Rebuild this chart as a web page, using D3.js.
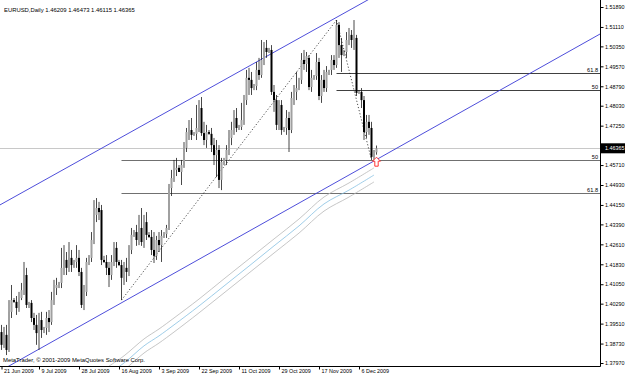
<!DOCTYPE html>
<html>
<head>
<meta charset="utf-8">
<script src="https://cdn.jsdelivr.net/npm/d3@7"></script>
<style>
  html, body { margin: 0; padding: 0; background: #fff; }
  svg text { font-family: "Liberation Sans", Arial, sans-serif; }
</style>
</head>
<body>
<div id="chart"></div>
<script>
// EURUSD daily candles, Jun-Dec 2009 (MetaTrader style)
const width = 625;
const height = 376;
const plotRight = 600;
const plotBottom = 366;

// OHLC, one entry per bar (broker has Sunday bars)
const opens = [
  1.3926,1.3918,1.3868,1.3907,1.3848,1.3997,1.4043,1.4036,1.4012,1.4051,
  1.4082,1.4141,1.4024,1.4032,1.3973,1.3946,1.3914,1.3965,1.3926,1.3934,
  1.3973,1.3957,1.4043,1.4090,1.4102,1.4110,1.4169,1.4200,1.4169,1.4208,
  1.4180,1.4192,1.4208,1.4153,1.4024,1.4075,1.4192,1.4208,1.4278,1.4376,
  1.4403,1.4395,1.4200,1.4192,1.4169,1.4141,1.4192,1.4247,1.4192,1.4180,
  1.4130,1.4169,1.4153,1.4239,1.4298,1.4309,1.4278,1.4325,1.4270,1.4348,
  1.4298,1.4290,1.4239,1.4216,1.4278,1.4258,1.4294,1.4301,1.4325,1.4481,
  1.4520,1.4552,1.4560,1.4544,1.4571,1.4638,1.4700,1.4708,1.4689,1.4693,
  1.4716,1.4794,1.4696,1.4669,1.4700,1.4693,1.4649,1.4610,1.4630,1.4513,
  1.4583,1.4591,1.4630,1.4677,1.4708,1.4755,1.4716,1.4720,1.4747,1.4825,
  1.4912,1.4904,1.4872,1.4880,1.4943,1.4923,1.4982,1.5029,1.5013,1.5021,
  1.4857,1.4825,1.4728,1.4806,1.4708,1.4716,1.4755,1.4708,1.4833,1.4857,
  1.4872,1.4904,1.4982,1.4966,1.4990,1.4876,1.4912,1.4919,1.4974,1.4841,
  1.4904,1.4872,1.4935,1.4943,1.4982,1.4962,1.5119,1.5040,1.5001,1.5013,
  1.5060,1.5080,1.5060,1.5068,1.4853,1.4857,1.4825,1.4700,1.4740,1.4716,
  1.4603,1.46209
];
const highs = [
  1.3938,1.3946,1.3938,1.3946,1.4043,1.4102,1.4051,1.4059,1.4075,1.4110,
  1.4192,1.4169,1.4036,1.4043,1.3993,1.3985,1.3993,1.3997,1.3938,1.3997,
  1.4004,1.4075,1.4122,1.4130,1.4114,1.4247,1.4258,1.4231,1.4270,1.4239,
  1.4200,1.4258,1.4239,1.4169,1.4102,1.4208,1.4219,1.4309,1.4434,1.4442,
  1.4427,1.4415,1.4216,1.4219,1.4192,1.4219,1.4270,1.4270,1.4200,1.4200,
  1.4192,1.4208,1.4258,1.4325,1.4317,1.4337,1.4376,1.4403,1.4376,1.4387,
  1.4309,1.4317,1.4309,1.4294,1.4309,1.4317,1.4309,1.4337,1.4497,1.4552,
  1.4591,1.4599,1.4571,1.4591,1.4661,1.4716,1.4747,1.4755,1.4700,1.4806,
  1.4825,1.4837,1.4740,1.4728,1.4708,1.4716,1.4677,1.4669,1.4649,1.4599,
  1.4599,1.4649,1.4708,1.4740,1.4786,1.4794,1.4728,1.4814,1.4845,1.4943,
  1.4951,1.4935,1.4888,1.4974,1.4990,1.5060,1.5052,1.5060,1.5029,1.5040,
  1.4884,1.4845,1.4825,1.4825,1.4720,1.4786,1.4779,1.4857,1.4884,1.4935,
  1.4912,1.5009,1.5021,1.5013,1.5001,1.4943,1.4923,1.5009,1.4990,1.4923,
  1.4943,1.4958,1.4943,1.5001,1.5001,1.5138,1.5130,1.5068,1.5021,1.5091,
  1.5107,1.5099,1.5138,1.5080,1.4864,1.4872,1.4841,1.4767,1.4767,1.4740,
  1.4630,1.46473
];
const lows = [
  1.3914,1.3848,1.3856,1.3828,1.3840,1.3973,1.4032,1.3985,1.3997,1.4043,
  1.4063,1.4012,1.4012,1.3957,1.3926,1.3868,1.3848,1.3895,1.3914,1.3907,
  1.3918,1.3946,1.4024,1.4063,1.4090,1.4090,1.4141,1.4141,1.4153,1.4153,
  1.4169,1.4169,1.4137,1.4012,1.4004,1.4059,1.4180,1.4192,1.4262,1.4348,
  1.4356,1.4180,1.4188,1.4141,1.4094,1.4122,1.4176,1.4169,1.4176,1.4043,
  1.4102,1.4114,1.4137,1.4223,1.4290,1.4255,1.4258,1.4255,1.4247,1.4278,
  1.4286,1.4219,1.4188,1.4200,1.4231,1.4192,1.4286,1.4286,1.4317,1.4450,
  1.4505,1.4528,1.4544,1.4493,1.4560,1.4622,1.4669,1.4669,1.4685,1.4669,
  1.4700,1.4685,1.4649,1.4638,1.4689,1.4622,1.4571,1.4524,1.4481,1.4473,
  1.4571,1.4571,1.4610,1.4649,1.4689,1.4700,1.4708,1.4708,1.4728,1.4806,
  1.4845,1.4845,1.4864,1.4864,1.4904,1.4912,1.4962,1.4990,1.5009,1.4845,
  1.4779,1.4708,1.4708,1.4689,1.4700,1.4689,1.4622,1.4696,1.4806,1.4825,
  1.4864,1.4888,1.4943,1.4935,1.4864,1.4857,1.4904,1.4904,1.4825,1.4814,
  1.4857,1.4857,1.4923,1.4923,1.4943,1.4951,1.4990,1.4935,1.4997,1.4990,
  1.5040,1.5029,1.5021,1.4841,1.4849,1.4794,1.4669,1.4677,1.4689,1.4591,
  1.4591,1.46115
];
const closes = [
  1.3918,1.3868,1.3907,1.3848,1.3997,1.4043,1.4036,1.4012,1.4051,1.4082,
  1.4141,1.4024,1.4032,1.3973,1.3946,1.3914,1.3965,1.3926,1.3934,1.3973,
  1.3957,1.4043,1.4090,1.4102,1.4110,1.4169,1.4200,1.4169,1.4208,1.4180,
  1.4192,1.4208,1.4153,1.4024,1.4075,1.4192,1.4208,1.4278,1.4376,1.4403,
  1.4387,1.4200,1.4192,1.4169,1.4141,1.4192,1.4247,1.4192,1.4180,1.4130,
  1.4169,1.4153,1.4239,1.4298,1.4309,1.4278,1.4325,1.4270,1.4348,1.4298,
  1.4290,1.4239,1.4216,1.4278,1.4258,1.4294,1.4301,1.4325,1.4481,1.4520,
  1.4552,1.4560,1.4544,1.4571,1.4638,1.4700,1.4708,1.4689,1.4693,1.4716,
  1.4794,1.4696,1.4669,1.4700,1.4693,1.4649,1.4610,1.4630,1.4513,1.4583,
  1.4591,1.4630,1.4677,1.4708,1.4755,1.4716,1.4720,1.4747,1.4825,1.4912,
  1.4904,1.4872,1.4880,1.4943,1.4923,1.4982,1.5029,1.5013,1.5021,1.4857,
  1.4825,1.4728,1.4806,1.4708,1.4716,1.4755,1.4708,1.4833,1.4857,1.4872,
  1.4904,1.4982,1.4966,1.4997,1.4876,1.4912,1.4919,1.4974,1.4841,1.4904,
  1.4872,1.4935,1.4943,1.4982,1.4962,1.5119,1.5040,1.5001,1.5013,1.5060,
  1.5080,1.5060,1.5068,1.4853,1.4857,1.4825,1.4700,1.4740,1.4716,1.4603,
  1.4614,1.46365
];

// slow moving average with envelope, sampled at these bars
const maIdx    = [44, 50, 58, 64, 70, 80, 90, 100, 110, 120, 130, 140, 150];
const maUpper  = [1.3785,1.3825,1.3891,1.3930,1.3973,1.4047,1.4126,1.4204,1.4282,1.4360,1.4446,1.4501,1.4560];
const maMiddle = [1.3758,1.3797,1.3864,1.3903,1.3946,1.4020,1.4098,1.4176,1.4255,1.4333,1.4419,1.4473,1.4532];
const maLower  = [1.3731,1.3770,1.3836,1.3875,1.3918,1.3993,1.4071,1.4149,1.4227,1.4305,1.4391,1.4446,1.4505];

// channel anchors [bar, price]
const channelUpper = [[0, 1.4413], [114, 1.5034]];
const channelLower = [[40, 1.3983], [148, 1.4576]];

// fibonacci anchors [bar, price] and levels
const fibA = [[49, 1.4043], [135, 1.5138]];
const fibB = [[135, 1.5138], [149, 1.4591]];
const fibLevels = [50, 61.8];

// axis labels (1.46490 sits under the current price box)
const priceTicks = [1.51890,1.51110,1.50350,1.49570,1.48790,1.48030,1.47250,1.46490,1.45710,
  1.44930,1.44150,1.43390,1.42610,1.41830,1.41050,1.40290,1.39510,1.38730,1.37970];
const dateIdx = [0, 16, 32, 48, 64, 80, 96, 112, 128, 144];
const dateLabels = ["21 Jun 2009","9 Jul 2009","28 Jul 2009","16 Aug 2009","3 Sep 2009",
  "22 Sep 2009","11 Oct 2009","29 Oct 2009","17 Nov 2009","6 Dec 2009"];

const x = d3.scaleLinear().domain([0, 151]).range([-1, 376.5]);
const y = d3.scaleLinear().domain([1.3797, 1.5189]).range([363, 7]);

const svg = d3.select("#chart")
  .append("svg")
  .attr("width", width)
  .attr("height", height);

svg.append("rect").attr("width", width).attr("height", height).attr("fill", "#fff");

svg.append("clipPath").attr("id", "plot")
  .append("rect").attr("x", 0).attr("y", 0).attr("width", plotRight).attr("height", plotBottom);

const g = svg.append("g").attr("clip-path", "url(#plot)");

// bid line
const last = closes.length - 1;
g.append("line")
  .attr("x1", 0).attr("x2", plotRight)
  .attr("y1", Math.round(y(closes[last])) + 0.5).attr("y2", Math.round(y(closes[last])) + 0.5)
  .attr("stroke", "#c8c8c8");

// fibonacci levels
function drawFib(anchors, color) {
  const [p1, p2] = anchors;
  fibLevels.forEach(function(lv) {
    const price = p2[1] + (p1[1] - p2[1]) * lv / 100;
    const yy = Math.round(y(price)) + 0.5;
    g.append("line")
      .attr("x1", x(p1[0])).attr("x2", plotRight)
      .attr("y1", yy).attr("y2", yy)
      .attr("stroke", color).attr("stroke-width", 1);
    g.append("text")
      .attr("x", 598).attr("y", yy - 1.5)
      .attr("text-anchor", "end")
      .attr("font-size", 5.6)
      .attr("fill", "#000")
      .text(lv === 50 ? "50" : "61.8");
  });
  // dotted trend line between anchors
  g.append("line")
    .attr("x1", x(p1[0])).attr("y1", y(p1[1]))
    .attr("x2", x(p2[0])).attr("y2", y(p2[1]))
    .attr("stroke", "#000").attr("stroke-width", 0.7)
    .attr("stroke-dasharray", "1.2,2");
}
drawFib(fibA, "#707070");
drawFib(fibB, "#404040");

// moving average envelope
const maLine = d3.line()
  .x((d, i) => x(maIdx[i]))
  .y(d => y(d))
  .curve(d3.curveCatmullRom);
[[maUpper, "#b8b8b8"], [maMiddle, "#86c0e2"], [maLower, "#b8b8b8"]].forEach(function(s) {
  g.append("path")
    .attr("d", maLine(s[0]))
    .attr("fill", "none")
    .attr("stroke", s[1])
    .attr("stroke-width", 0.8);
});

// channel lines, extended across the plot
function extend(anchors) {
  const [a, b] = anchors;
  const k = (b[1] - a[1]) / (b[0] - a[0]);
  const i0 = x.invert(0), i1 = x.invert(plotRight);
  return [[0, y(a[1] + k * (i0 - a[0]))], [plotRight, y(a[1] + k * (i1 - a[0]))]];
}
[channelUpper, channelLower].forEach(function(ch) {
  const pts = extend(ch);
  g.append("line")
    .attr("x1", pts[0][0]).attr("y1", pts[0][1])
    .attr("x2", pts[1][0]).attr("y2", pts[1][1])
    .attr("stroke", "#3a3ad6").attr("stroke-width", 0.9);
});

// candles
const bars = d3.range(closes.length);
g.selectAll(".wick")
  .data(bars)
  .enter().append("line")
  .attr("class", "wick")
  .attr("x1", i => x(i)).attr("x2", i => x(i))
  .attr("y1", i => y(highs[i])).attr("y2", i => y(lows[i]))
  .attr("stroke", "#1a1a1a").attr("stroke-width", 0.8);

g.selectAll(".body")
  .data(bars)
  .enter().append("rect")
  .attr("class", "body")
  .attr("x", i => x(i) - 1)
  .attr("width", 2)
  .attr("y", i => y(Math.max(opens[i], closes[i])))
  .attr("height", i => Math.max(0.8, Math.abs(y(opens[i]) - y(closes[i]))))
  .attr("fill", i => closes[i] >= opens[i] ? "#a0a0a0" : "#000");

// signal arrow under the last bar
const ax = x(last), ay = y(lows[last]) + 2.5;
g.append("path")
  .attr("d", `M${ax},${ay} l4,4 h-2.3 v5 h-3.4 v-5 h-2.3 z`)
  .attr("fill", "#fff")
  .attr("stroke", "#ff2020")
  .attr("stroke-width", 0.9);

// header and copyright
svg.append("text")
  .attr("x", 4).attr("y", 12)
  .attr("font-size", 5.9)
  .attr("fill", "#000")
  .text("EURUSD,Daily  " + [opens[last], highs[last], lows[last], closes[last]].map(d3.format(".5f")).join(" "));

svg.append("text")
  .attr("x", 3).attr("y", 362)
  .attr("font-size", 5.9)
  .attr("fill", "#000")
  .text("MetaTrader, \u00a9 2001-2009 MetaQuotes Software Corp.");

// frame lines
svg.append("line")
  .attr("x1", 0).attr("x2", plotRight + 0.5)
  .attr("y1", plotBottom + 0.5).attr("y2", plotBottom + 0.5)
  .attr("stroke", "#000");
svg.append("line")
  .attr("x1", plotRight + 0.5).attr("x2", plotRight + 0.5)
  .attr("y1", 0).attr("y2", plotBottom + 0.5)
  .attr("stroke", "#000");

// price axis
const by = y(closes[last]);
const yAxis = d3.axisRight(y)
  .tickValues(priceTicks)
  .tickSize(3)
  .tickFormat(d3.format(".5f"));
const ya = svg.append("g")
  .attr("transform", `translate(${plotRight + 0.5},0)`)
  .call(yAxis);
ya.select(".domain").remove();
ya.selectAll("text").attr("x", 4.5).attr("font-size", 5.4).attr("font-family", "Liberation Sans, Arial, sans-serif");
// the label hidden by the current price box is not drawn
ya.selectAll(".tick").filter(d => Math.abs(y(d) - by) < 6).select("text").remove();

// current price box
svg.append("rect")
  .attr("x", plotRight + 1).attr("y", by - 5)
  .attr("width", width - plotRight - 1).attr("height", 10)
  .attr("fill", "#000");
svg.append("text")
  .attr("x", plotRight + 5).attr("y", by + 2)
  .attr("font-size", 5.4)
  .attr("fill", "#fff")
  .text(d3.format(".5f")(closes[last]));

// date axis
const xAxis = d3.axisBottom(x)
  .tickValues(dateIdx)
  .tickSize(3)
  .tickFormat((d, i) => dateLabels[i]);
const xa = svg.append("g")
  .attr("transform", `translate(0,${plotBottom + 0.5})`)
  .call(xAxis);
xa.select(".domain").remove();
xa.selectAll(".tick").filter(d => x(d) < 2).attr("transform", "translate(2,0)");
xa.selectAll("text")
  .attr("text-anchor", "start")
  .attr("x", 2).attr("y", 3).attr("dy", "0.71em")
  .attr("font-size", 5.4)
  .attr("font-family", "Liberation Sans, Arial, sans-serif");
</script>
</body>
</html>
